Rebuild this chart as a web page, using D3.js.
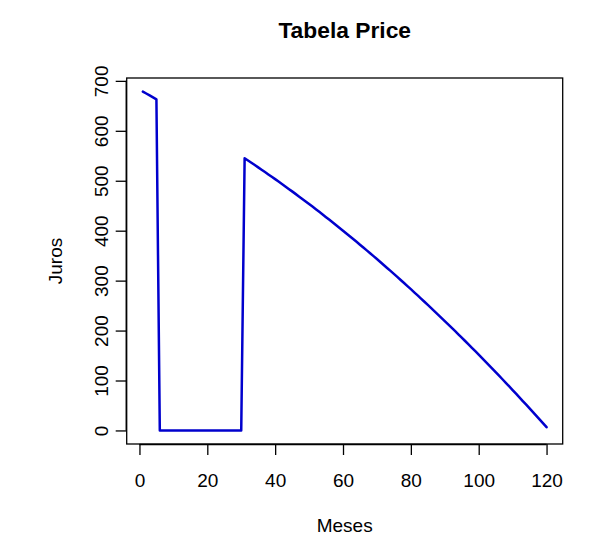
<!DOCTYPE html>
<html>
<head>
<meta charset="utf-8">
<script src="https://cdn.jsdelivr.net/npm/d3@7/dist/d3.min.js"></script>
<style>
  html, body { margin: 0; padding: 0; background: #fff; }
  svg { display: block; font-family: "Liberation Sans", Arial, sans-serif; }
</style>
</head>
<body>
<svg id="chart" width="613" height="542"></svg>
<script>
// ---- data ----
const title = "Tabela Price";
const xLabel = "Meses";
const yLabel = "Juros";
const months = d3.range(1, 121);
const jurosInicio = [678.6, 674.7, 670.9, 667.0, 663.0];
const jurosCarencia = [0,0,0,0,0,0,0,0,0,0,0,0,0,0,0,0,0,0,0,0,0,0,0,0,0];
const jurosAmortizacao = [
  545.0, 540.5, 535.9, 531.4, 526.8, 522.1, 517.4, 512.7, 507.9, 503.2,
  498.3, 493.5, 488.6, 483.6, 478.7, 473.7, 468.6, 463.6, 458.5, 453.3,
  448.2, 442.9, 437.7, 432.4, 427.1, 421.8, 416.4, 410.9, 405.5, 400.0,
  394.5, 388.9, 383.3, 377.7, 372.0, 366.3, 360.6, 354.8, 349.0, 343.2,
  337.3, 331.4, 325.4, 319.5, 313.5, 307.4, 301.3, 295.2, 289.0, 282.9,
  276.6, 270.4, 264.1, 257.7, 251.4, 245.0, 238.5, 232.1, 225.6, 219.0,
  212.5, 205.8, 199.2, 192.5, 185.8, 179.1, 172.3, 165.4, 158.6, 151.7,
  144.8, 137.8, 130.8, 123.8, 116.7, 109.6, 102.5, 95.3, 88.1, 80.9,
  73.6, 66.3, 58.9, 51.6, 44.2, 36.7, 29.2, 21.7, 14.1, 6.5
];
const juros = jurosInicio.concat(jurosCarencia, jurosAmortizacao);
const xTicks = [0, 20, 40, 60, 80, 100, 120];
const yTicks = [0, 100, 200, 300, 400, 500, 600, 700];

// ---- layout ----
const box = { left: 126.7, right: 562.7, top: 78, bottom: 444 };
const fs = 19;

const svg = d3.select("#chart");
const data = months.map((m, i) => ({ m, v: juros[i] }));

function rExt(ext) {
  const d = (ext[1] - ext[0]) * 0.04;
  return [ext[0] - d, ext[1] + d];
}
const x = d3.scaleLinear().domain(rExt(d3.extent(months))).range([box.left, box.right]);
const y = d3.scaleLinear().domain(rExt(d3.extent(juros))).range([box.bottom, box.top]);

// line
svg.append("path")
  .datum(data)
  .attr("fill", "none")
  .attr("stroke", "#0000CD")
  .attr("stroke-width", 2.5)
  .attr("stroke-linejoin", "round")
  .attr("stroke-linecap", "round")
  .attr("d", d3.line().x(d => x(d.m)).y(d => y(d.v)));

// box
svg.append("rect")
  .attr("x", box.left).attr("y", box.top)
  .attr("width", box.right - box.left).attr("height", box.bottom - box.top)
  .attr("fill", "none").attr("stroke", "#000").attr("stroke-width", 1.3);

// x axis
const xAxis = d3.axisBottom(x).tickValues(xTicks).tickSize(11).tickPadding(6).tickFormat(d3.format("d"));
const gx = svg.append("g").attr("transform", `translate(0,${box.bottom})`).call(xAxis);
gx.select(".domain").attr("d", `M${x(xTicks[0])},0.5H${x(xTicks[xTicks.length-1])}`).attr("stroke-width", 1.3);
gx.selectAll(".tick line").attr("stroke-width", 1.3);
gx.selectAll("text").attr("font-size", fs).attr("fill", "#000")
  .attr("font-family", "Liberation Sans, Arial, sans-serif").attr("dy", null).attr("y", 43);

// y axis
const yAxis = d3.axisLeft(y).tickValues(yTicks).tickSize(11).tickFormat(d3.format("d"));
const gy = svg.append("g").attr("transform", `translate(${box.left},0)`).call(yAxis);
gy.select(".domain").attr("d", `M-0.5,${y(yTicks[0])}V${y(yTicks[yTicks.length-1])}`).attr("stroke-width", 1.3);
gy.selectAll(".tick line").attr("stroke-width", 1.3);
gy.selectAll("text")
  .attr("font-size", fs).attr("fill", "#000")
  .attr("font-family", "Liberation Sans, Arial, sans-serif")
  .attr("x", null).attr("dy", null)
  .attr("text-anchor", "middle")
  .attr("transform", "translate(-19,0) rotate(-90)");

// title
svg.append("text")
  .attr("x", (box.left + box.right) / 2).attr("y", 38)
  .attr("text-anchor", "middle").attr("font-weight", "bold")
  .attr("font-size", 22.8).attr("fill", "#000")
  .text(title);

// axis labels
svg.append("text")
  .attr("x", (box.left + box.right) / 2).attr("y", 532)
  .attr("text-anchor", "middle").attr("font-size", fs).attr("fill", "#000")
  .text(xLabel);

svg.append("text")
  .attr("transform", `translate(62,${(box.top + box.bottom) / 2}) rotate(-90)`)
  .attr("text-anchor", "middle").attr("font-size", fs).attr("fill", "#000")
  .text(yLabel);
</script>
</body>
</html>
